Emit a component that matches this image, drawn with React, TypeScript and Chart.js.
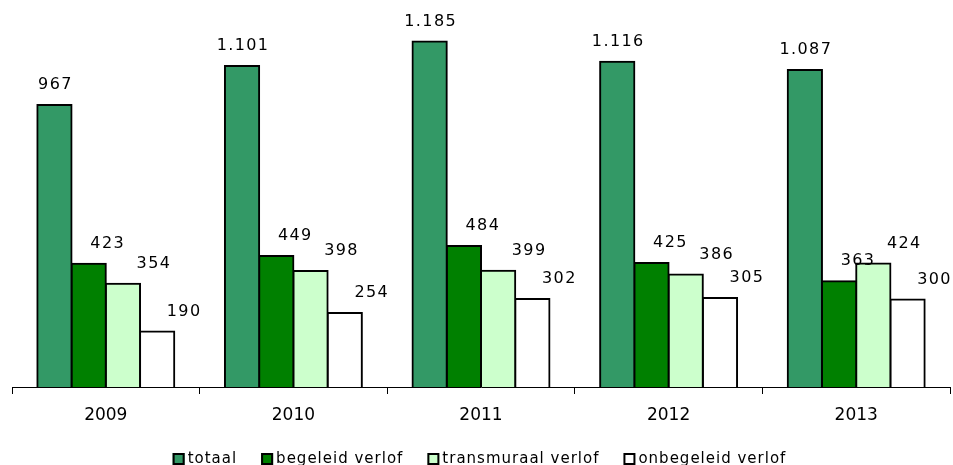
import React, { useEffect, useRef } from 'react';
import { Chart, registerables } from 'chart.js';

Chart.register(...registerables);

const categories = ['2009', '2010', '2011', '2012', '2013'];
const totaal = [967, 1101, 1185, 1116, 1087];
const begeleid = [423, 449, 484, 425, 363];
const transmuraal = [354, 398, 399, 386, 424];
const onbegeleid = [190, 254, 302, 305, 300];
const seriesNames = ['totaal', 'begeleid verlof', 'transmuraal verlof', 'onbegeleid verlof'];
const seriesColors = ['#339966', '#008000', '#CCFFCC', '#FFFFFF'];
const labelDx = [0, 18, 30, 26];

const FONT = '"DejaVu Sans", Verdana, sans-serif';

function fmt(v: number): string {
  return String(v).replace(/\B(?=(\d{3})+(?!\d))/g, '.');
}

const valueLabels = {
  id: 'valueLabels',
  afterDatasetsDraw(chart: any) {
    const ctx = chart.ctx;
    ctx.save();
    ctx.font = `16px ${FONT}`;
    (ctx as any).letterSpacing = '1.4px';
    ctx.fillStyle = '#000';
    ctx.textAlign = 'center';
    ctx.textBaseline = 'middle';
    chart.data.datasets.forEach((ds: any, di: number) => {
      const meta = chart.getDatasetMeta(di);
      meta.data.forEach((el: any, i: number) => {
        ctx.fillText(fmt(ds.data[i]), el.x + labelDx[di] + 1, el.y - 20);
      });
    });
    ctx.restore();
  },
};

const customLegend = {
  id: 'customLegend',
  afterDraw(chart: any) {
    const ctx = chart.ctx;
    ctx.save();
    ctx.font = `15px ${FONT}`;
    (ctx as any).letterSpacing = '1px';
    const box = 12;
    const gapText = 3;
    const gapItem = 24;
    const widths = seriesNames.map((n) => ctx.measureText(n).width);
    const total = widths.reduce((a, w) => a + box + gapText + w, 0) + gapItem * (seriesNames.length - 1);
    let x = (chart.width - total) / 2 + 3;
    const cy = 459;
    seriesNames.forEach((n, i) => {
      ctx.fillStyle = seriesColors[i];
      ctx.fillRect(x, cy - box / 2, box, box);
      ctx.strokeStyle = '#000';
      ctx.lineWidth = 2;
      ctx.strokeRect(x + 1, cy - box / 2 + 1, box - 2, box - 2);
      ctx.fillStyle = '#000';
      ctx.textAlign = 'left';
      ctx.textBaseline = 'middle';
      ctx.fillText(n, x + box + gapText, cy);
      x += box + gapText + widths[i] + gapItem;
    });
    ctx.restore();
  },
};

export default function App() {
  const ref = useRef<HTMLCanvasElement | null>(null);
  useEffect(() => {
    if (!ref.current) return;
    const data = [totaal, begeleid, transmuraal, onbegeleid];
    const chart = new Chart(ref.current, {
      type: 'bar',
      data: {
        labels: categories,
        datasets: data.map((d, i) => ({
          label: seriesNames[i],
          data: d,
          backgroundColor: seriesColors[i],
          borderColor: '#000',
          borderWidth: 2,
          inflateAmount: 1,
          barPercentage: 1,
          categoryPercentage: 0.73,
        })),
      },
      options: {
        responsive: false,
        animation: false,
        layout: { padding: { left: 12, right: 3, top: 8, bottom: 40 } },
        plugins: {
          legend: { display: false },
          tooltip: { enabled: false },
        },
        scales: {
          y: { display: false, min: 0, max: 1300 },
          x: {
            afterFit: (scale: any) => {
              scale.height = 38;
            },
            border: { display: true, color: '#000', width: 1 },
            grid: {
              offset: true,
              drawOnChartArea: false,
              drawTicks: true,
              tickLength: 7,
              color: '#000',
            },
            ticks: {
              color: '#000',
              padding: 11,
              font: { family: FONT, size: 17 },
              maxRotation: 0,
            },
          },
        },
      },
      plugins: [valueLabels, customLegend],
    });
    return () => chart.destroy();
  }, []);
  return (
    <div style={{ position: 'fixed', left: 0, top: 0, width: 953, height: 465, background: '#fff' }}>
      <canvas ref={ref} width={953} height={465} style={{ display: 'block' }} />
    </div>
  );
}
